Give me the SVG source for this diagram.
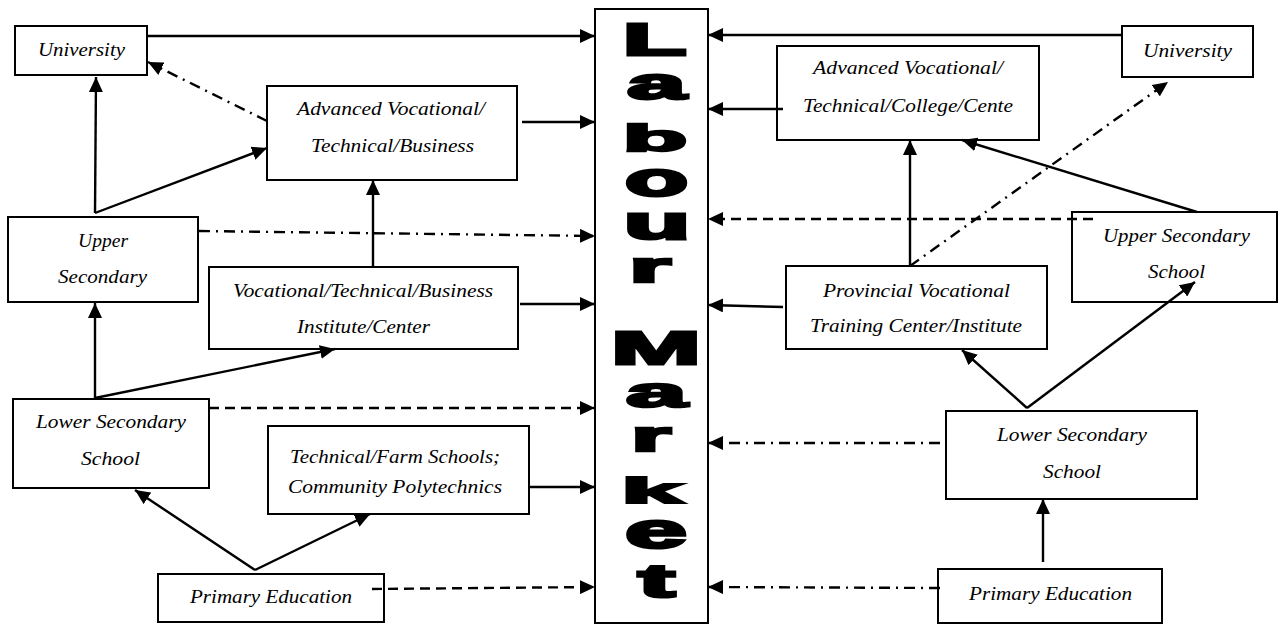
<svg xmlns="http://www.w3.org/2000/svg" width="1279" height="626" viewBox="0 0 1279 626">
<style>
.box{fill:#fff;stroke:#000;stroke-width:2}
.t{font-family:"Liberation Serif","Times New Roman",serif;font-style:italic;font-size:18.5px;fill:#000;text-anchor:middle}
.c{fill:none;stroke:#000;stroke-width:2.4;marker-end:url(#ah)}
.dash{stroke-dasharray:10 6}
.dd{stroke-dasharray:11 6 2 6}
.lm{font-family:"Liberation Sans",Arial,sans-serif;font-weight:bold;font-size:48px;fill:#000;stroke:#000;stroke-width:3;text-anchor:middle}
</style>
<defs>
<marker id="ah" markerUnits="userSpaceOnUse" viewBox="0 0 15 14" markerWidth="15" markerHeight="14" refX="15" refY="7" orient="auto">
<path d="M0,0 L15,7 L0,14 Z" fill="#000"/>
</marker>
</defs>
<rect width="1279" height="626" fill="#fff"/>

<g id="labour-market">
<rect class="box" x="595" y="9" width="113" height="614"/>
<text class="lm" transform="translate(654.5,54.5) scale(2.17,0.94)">L</text>
<text class="lm" transform="translate(656.5,98.5) scale(2.19,0.93)">a</text>
<text class="lm" transform="translate(655,150.5) scale(2.2,0.78)">b</text>
<text class="lm" transform="translate(656.5,195.5) scale(2.15,1.0)">o</text>
<text class="lm" transform="translate(657,238.5) scale(2.27,0.95)">u</text>
<text class="lm" transform="translate(650,281.5) scale(2.22,0.9)">r</text>
<text class="lm" transform="translate(656,363.5) scale(2.24,0.96)">M</text>
<text class="lm" transform="translate(656.5,406.5) scale(2.26,0.87)">a</text>
<text class="lm" transform="translate(651,450.5) scale(2.12,0.9)">r</text>
<text class="lm" transform="translate(652,502.5) scale(2.3,0.72)">k</text>
<text class="lm" transform="translate(656,547.5) scale(2.3,1.04)">e</text>
<text class="lm" transform="translate(656.5,596.5) scale(2.29,0.98)">t</text>
</g>

<g id="university-left">
<rect class="box" x="15" y="26" width="132" height="49"/>
<text class="t" x="81.5" y="56" textLength="87" lengthAdjust="spacingAndGlyphs">University</text>
</g>
<g id="advanced-left">
<rect class="box" x="267" y="86" width="250" height="94"/>
<text class="t" x="391" y="115" textLength="188" lengthAdjust="spacingAndGlyphs">Advanced Vocational/</text>
<text class="t" x="392.5" y="152" textLength="163" lengthAdjust="spacingAndGlyphs">Technical/Business</text>
</g>
<g id="upper-secondary-left">
<rect class="box" x="8" y="217" width="190" height="85"/>
<text class="t" x="103" y="247" textLength="50" lengthAdjust="spacingAndGlyphs">Upper</text>
<text class="t" x="102.5" y="283" textLength="89" lengthAdjust="spacingAndGlyphs">Secondary</text>
</g>
<g id="vocational-left">
<rect class="box" x="209" y="267" width="309" height="82"/>
<text class="t" x="363" y="297" textLength="260" lengthAdjust="spacingAndGlyphs">Vocational/Technical/Business</text>
<text class="t" x="363.5" y="333" textLength="133" lengthAdjust="spacingAndGlyphs">Institute/Center</text>
</g>
<g id="lower-secondary-left">
<rect class="box" x="13" y="399" width="196" height="89"/>
<text class="t" x="111" y="428" textLength="150" lengthAdjust="spacingAndGlyphs">Lower Secondary</text>
<text class="t" x="110.5" y="465" textLength="59" lengthAdjust="spacingAndGlyphs">School</text>
</g>
<g id="technical-farm-left">
<rect class="box" x="268" y="426" width="261" height="88"/>
<text class="t" x="395" y="463" textLength="210" lengthAdjust="spacingAndGlyphs">Technical/Farm Schools;</text>
<text class="t" x="395" y="493" textLength="214" lengthAdjust="spacingAndGlyphs">Community Polytechnics</text>
</g>
<g id="primary-left">
<rect class="box" x="158" y="574" width="226" height="48"/>
<text class="t" x="271" y="603" textLength="162" lengthAdjust="spacingAndGlyphs">Primary Education</text>
</g>

<g id="university-right">
<rect class="box" x="1122" y="26" width="131" height="51"/>
<text class="t" x="1187.5" y="57" textLength="89" lengthAdjust="spacingAndGlyphs">University</text>
</g>
<g id="advanced-right">
<rect class="box" x="777" y="46" width="262" height="94"/>
<text class="t" x="908" y="74" textLength="190" lengthAdjust="spacingAndGlyphs">Advanced Vocational/</text>
<text class="t" x="908" y="112" textLength="210" lengthAdjust="spacingAndGlyphs">Technical/College/Cente</text>
</g>
<g id="upper-secondary-right">
<rect class="box" x="1072" y="212" width="205" height="90"/>
<text class="t" x="1176.5" y="242" textLength="147" lengthAdjust="spacingAndGlyphs">Upper Secondary</text>
<text class="t" x="1176.5" y="278" textLength="57" lengthAdjust="spacingAndGlyphs">School</text>
</g>
<g id="provincial-right">
<rect class="box" x="786" y="266" width="261" height="83"/>
<text class="t" x="916.5" y="297" textLength="187" lengthAdjust="spacingAndGlyphs">Provincial Vocational</text>
<text class="t" x="916" y="332" textLength="212" lengthAdjust="spacingAndGlyphs">Training Center/Institute</text>
</g>
<g id="lower-secondary-right">
<rect class="box" x="946" y="411" width="251" height="88"/>
<text class="t" x="1072" y="441" textLength="150" lengthAdjust="spacingAndGlyphs">Lower Secondary</text>
<text class="t" x="1072" y="478" textLength="58" lengthAdjust="spacingAndGlyphs">School</text>
</g>
<g id="primary-right">
<rect class="box" x="938" y="569" width="224" height="54"/>
<text class="t" x="1050.5" y="600" textLength="163" lengthAdjust="spacingAndGlyphs">Primary Education</text>
</g>

<g id="connectors">
<line class="c" x1="147" y1="36" x2="595" y2="36"/>
<line class="c" x1="522" y1="122" x2="595" y2="122"/>
<line class="c dd" x1="267" y1="121" x2="148" y2="62"/>
<line class="c" x1="95" y1="213" x2="96" y2="77"/>
<line class="c" x1="95" y1="213" x2="267" y2="148"/>
<line class="c dd" x1="199" y1="231" x2="595" y2="236"/>
<line class="c" x1="373" y1="267" x2="373" y2="180"/>
<line class="c" x1="520" y1="304" x2="595" y2="304"/>
<line class="c" x1="95" y1="398" x2="95" y2="303"/>
<line class="c" x1="95" y1="398" x2="335" y2="349"/>
<line class="c dash" x1="209" y1="408" x2="595" y2="408"/>
<line class="c" x1="530" y1="487" x2="595" y2="487"/>
<line class="c" x1="255" y1="570" x2="135" y2="490"/>
<line class="c" x1="255" y1="570" x2="370" y2="514"/>
<line class="c dash" x1="372" y1="589" x2="595" y2="587"/>

<line class="c" x1="1122" y1="35" x2="708" y2="35"/>
<line class="c" x1="783" y1="109" x2="708" y2="109"/>
<line class="c" x1="910" y1="266" x2="910" y2="140"/>
<line class="c" x1="1197" y1="212" x2="962" y2="140"/>
<line class="c dd" x1="910" y1="266" x2="1168" y2="82"/>
<line class="c dash" x1="1093" y1="219" x2="708" y2="219"/>
<line class="c" x1="783" y1="307" x2="708" y2="305"/>
<line class="c" x1="1027" y1="408" x2="962" y2="350"/>
<line class="c" x1="1027" y1="408" x2="1195" y2="282"/>
<line class="c dd" x1="940" y1="443" x2="708" y2="443"/>
<line class="c" x1="1043" y1="562" x2="1043" y2="499"/>
<line class="c dd" x1="940" y1="588" x2="708" y2="587"/>
</g>
</svg>
